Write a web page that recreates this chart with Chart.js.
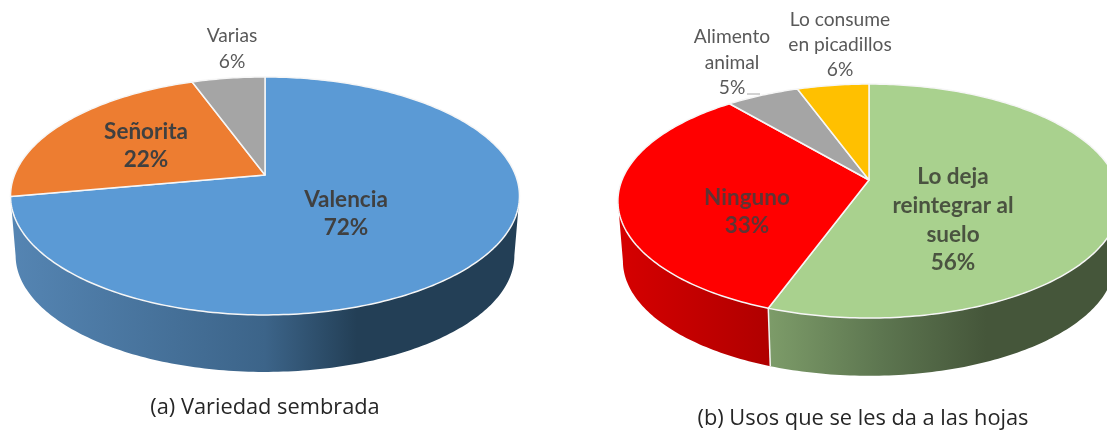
<!DOCTYPE html>
<html>
<head>
<meta charset="utf-8">
<title>Variedad sembrada y usos de las hojas</title>
<script src="https://cdn.jsdelivr.net/npm/chart.js@4"></script>
<style>
  html, body { margin: 0; padding: 0; background: #fff; overflow: hidden; }
  #wrap { position: relative; width: 1107px; height: 432px; filter: blur(0.45px); }
  canvas { position: absolute; left: 0; top: 0; }
</style>
</head>
<body>
<div id="wrap">
  <canvas id="chartA" width="1107" height="432"></canvas>
  <canvas id="chartB" width="1107" height="432"></canvas>
</div>
<script>
// data
const categoriesA = ["Valencia", "Señorita", "Varias"];
const valuesA = [72.1, 22.4, 5.5];
const percentLabelsA = ["72%", "22%", "6%"];
const captionA = "(a) Variedad sembrada";

const categoriesB = ["Lo deja reintegrar al suelo", "Ninguno", "Alimento animal", "Lo consume en picadillos"];
const valuesB = [55.5, 33.4, 5.6, 5.5];
const percentLabelsB = ["56%", "33%", "5%", "6%"];
const captionB = "(b) Usos que se les da a las hojas";

const colorsA = ["#5b9ad5", "#ed7d31", "#a5a5a5"];
const colorsB = ["#a9d18e", "#ff0000", "#a5a5a5", "#ffc000"];

const linesA = [["Valencia"], ["Señorita"], ["Varias"]];
const linesB = [["Lo deja", "reintegrar al", "suelo"], ["Ninguno"], ["Alimento", "animal"], ["Lo consume", "en picadillos"]];

// homography of the unit disc: apex, half axes, perspective
const viewA = {
  cx: 265, cy: 175, b: 250.5, a: 115.3, k: 0.176, depth: 59.8, shrink: 0.98,
  wall: [[["0", "#5585b3"], ["0.5", "#3c6489"], ["0.68", "#233f56"], ["1", "#233f56"]]],
  wallX: [10, 520],
  labels: [
    { x: 346, y: 199.5, step: 28.5, bold: true, size: 22.5, color: "#404040" },
    { x: 146, y: 132, step: 27.5, bold: true, size: 22.5, color: "#404040" },
    { x: 232, y: 36, step: 26, bold: false, size: 19.2, color: "#595959" }
  ],
  caption: { x: 265, y: 408 }
};
const viewB = {
  cx: 869, cy: 180, b: 247, a: 113.2, k: 0.18, depth: 60.5, shrink: 0.98,
  wall: [
    [["0", "#7d9c69"], ["0.32", "#5d7650"], ["0.62", "#45563a"], ["1", "#45563a"]],
    [["0", "#d60000"], ["1", "#b00000"]]
  ],
  wallX: [[768, 1120], [618, 768]],
  labels: [
    { x: 953, y: 177, step: 28.7, bold: true, size: 22.5, color: "#4a5340" },
    { x: 747, y: 197.5, step: 28, bold: true, size: 22.5, color: "#5f3434" },
    { x: 732, y: 37, step: 25.5, bold: false, size: 19.2, color: "#595959" },
    { x: 840, y: 20, step: 25, bold: false, size: 19.2, color: "#595959" }
  ],
  caption: { x: 863, y: 419 },
  leader: [747, 94, 760, 94]
};

const project = (view, turn, scale, dy) => {
  const u = Math.sin(turn), v = Math.cos(turn);
  const w = 1 + view.k * v;
  return [view.cx + scale * view.b * u / w, view.cy + dy - scale * view.a * v / w];
};

const arcPoints = (view, start, end, scale, dy) => {
  const pts = [];
  const steps = Math.max(8, Math.ceil((end - start) * 60));
  for (let i = 0; i <= steps; i++) {
    pts.push(project(view, start + (end - start) * i / steps, scale, dy));
  }
  return pts;
};

const tracePath = (ctx, pts) => {
  ctx.beginPath();
  pts.forEach((p, i) => i ? ctx.lineTo(p[0], p[1]) : ctx.moveTo(p[0], p[1]));
  ctx.closePath();
};

const makeWallFill = (ctx, stops, x0, x1) => {
  const grad = ctx.createLinearGradient(x0, 0, x1, 0);
  stops.forEach(s => grad.addColorStop(parseFloat(s[0]), s[1]));
  return grad;
};

const pie3d = {
  id: "pie3d",
  beforeDatasetsDraw(chart, args, opts) {
    const ctx = chart.ctx;
    const view = opts.view;
    const arcs = chart.getDatasetMeta(0).data;
    // arc elements start at -PI/2, turn is measured clockwise from the top
    const turns = arcs.map(arc => {
      const p = arc.getProps(["startAngle", "endAngle"], true);
      return [p.startAngle + Math.PI / 2, p.endAngle + Math.PI / 2];
    });
    // the disc is widest where v = -k, the wall only shows between those two turns
    const frontStart = Math.acos(-view.k);
    const frontEnd = 2 * Math.PI - frontStart;

    ctx.save();
    view.wall.forEach((stops, i) => {
      const s = Math.max(turns[i][0], frontStart);
      const e = Math.min(turns[i][1], frontEnd);
      const top = arcPoints(view, s, e, 1, 0);
      const low = arcPoints(view, s, e, view.shrink, view.depth).reverse();
      const range = Array.isArray(view.wallX[0]) ? view.wallX[i] : view.wallX;
      ctx.fillStyle = makeWallFill(ctx, stops, range[0], range[1]);
      tracePath(ctx, top.concat(low));
      ctx.fill();
    });
    if (view.wall.length > 1) {
      const t = turns[0][1];
      const p0 = project(view, t, 1, 0), p1 = project(view, t, view.shrink, view.depth);
      ctx.strokeStyle = "#f4f4f4";
      ctx.lineWidth = 1.5;
      ctx.beginPath();
      ctx.moveTo(p0[0], p0[1]);
      ctx.lineTo(p1[0], p1[1]);
      ctx.stroke();
    }

    // top face
    turns.forEach((t, i) => {
      tracePath(ctx, [[view.cx, view.cy]].concat(arcPoints(view, t[0], t[1], 1, 0)));
      ctx.fillStyle = chart.data.datasets[0].backgroundColor[i];
      ctx.fill();
      ctx.strokeStyle = "#f6f6f6";
      ctx.lineWidth = 1.5;
      ctx.lineJoin = "round";
      ctx.stroke();
    });

    if (view.leader) {
      ctx.strokeStyle = "#a6a6a6";
      ctx.lineWidth = 1;
      ctx.beginPath();
      ctx.moveTo(view.leader[0], view.leader[1]);
      ctx.lineTo(view.leader[2], view.leader[3]);
      ctx.stroke();
    }

    // data labels
    ctx.textAlign = "center";
    ctx.textBaseline = "middle";
    opts.lines.forEach((lines, i) => {
      const lab = view.labels[i];
      ctx.font = (lab.bold ? "bold " : "") + lab.size + "px Lato";
      ctx.fillStyle = lab.color;
      lines.concat(opts.percents[i]).forEach((txt, j) => ctx.fillText(txt, lab.x, lab.y + j * lab.step));
    });

    ctx.font = "21.8px 'Open Sans'";
    ctx.fillStyle = "#262626";
    ctx.fillText(opts.caption, view.caption.x, view.caption.y);
    ctx.restore();
    return false;
  }
};

const makePie = (id, labels, values, colors, lines, percents, caption, view) => new Chart(document.getElementById(id), {
  type: "pie",
  data: { labels: labels, datasets: [{ data: values, backgroundColor: colors, borderWidth: 0 }] },
  options: {
    responsive: false,
    animation: false,
    plugins: {
      legend: { display: false },
      tooltip: { enabled: false },
      pie3d: { view: view, lines: lines, percents: percents, caption: caption }
    }
  },
  plugins: [pie3d]
});

document.fonts.load("bold 20px Lato").then(() => document.fonts.load("17px 'Open Sans'")).finally(() => {
  makePie("chartA", categoriesA, valuesA, colorsA, linesA, percentLabelsA, captionA, viewA);
  makePie("chartB", categoriesB, valuesB, colorsB, linesB, percentLabelsB, captionB, viewB);
});
</script>
</body>
</html>
